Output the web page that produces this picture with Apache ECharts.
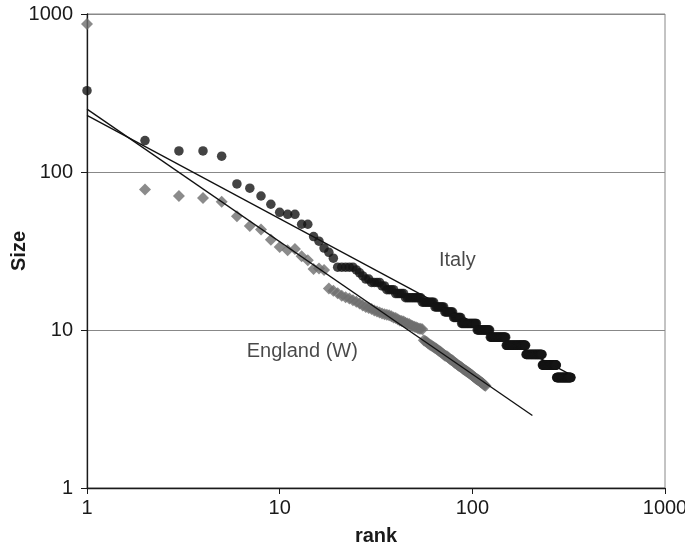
<!DOCTYPE html>
<html>
<head>
<meta charset="utf-8">
<script src="https://cdn.jsdelivr.net/npm/echarts@6/dist/echarts.min.js"></script>
<style>html,body{margin:0;padding:0;background:#fff}#c{width:685px;height:548px}</style>
</head>
<body>
<div id="c"></div>
<script>
// Italy: explicit sizes for ranks 1..19, then integer plateaus
var italyHead = [327, 158, 136, 136, 126, 84, 79, 70.5, 62.5, 55.6, 54, 54, 46.7, 46.7, 39, 36.5, 33, 31, 28.5];
var italyPlateauSize = [25, 24, 23, 22, 21, 20, 19, 18, 17, 16, 15, 14, 13, 12, 11, 10, 9, 8, 7, 6, 5];
var italyPlateauLastRank = [24, 25, 26, 27, 29, 33, 35, 39, 44, 54, 63, 71, 79, 87, 105, 123, 149, 189, 230, 273, 325];

// England (W): sizes for ranks 1..117
var englandSizes = [865, 77.5, 70.5, 68.5, 64.8, 52.5, 45.6, 43.2, 37.3, 33.5,
  32.0, 32.6, 29.3, 27.6, 24.3, 24.5, 24.0, 18.3, 17.7, 17.1,
  16.5, 16.1, 15.8, 15.4, 15.1, 14.7, 14.3, 14.0, 13.8, 13.6,
  13.3, 13.1, 12.9, 12.7, 12.6, 12.5, 12.4, 12.2, 12.0, 11.9,
  11.7, 11.5, 11.4, 11.3, 11.1, 11.0, 10.9, 10.7, 10.6, 10.5,
  10.4, 10.3, 10.2, 10.2, 10.1, 8.6, 8.5, 8.4, 8.2, 8.1,
  8.0, 7.9, 7.8, 7.7, 7.6, 7.5, 7.4, 7.3, 7.2, 7.1,
  7.0, 6.9, 6.85, 6.8, 6.7, 6.6, 6.5, 6.45, 6.4, 6.3,
  6.2, 6.15, 6.1, 6.0, 5.95, 5.9, 5.85, 5.8, 5.7, 5.65,
  5.6, 5.55, 5.5, 5.45, 5.4, 5.35, 5.3, 5.25, 5.2, 5.15,
  5.1, 5.05, 5.0, 4.95, 4.9, 4.87, 4.83, 4.8, 4.75, 4.7,
  4.67, 4.63, 4.6, 4.55, 4.5, 4.47, 4.43];

// Fitted power-law lines (endpoints)
var italyFit = [[1, 228], [325, 5.2]];
var englandFit = [[1, 250], [205, 2.88]];

var xTicks = [1, 10, 100, 1000];
var yTicks = [1, 10, 100, 1000];

var italyData = [];
for (var i = 0; i < italyHead.length; i++) italyData.push([i + 1, italyHead[i]]);
var r = italyHead.length + 1;
for (var p = 0; p < italyPlateauSize.length; p++) {
  for (; r <= italyPlateauLastRank[p]; r++) italyData.push([r, italyPlateauSize[p]]);
}
var englandData = englandSizes.map(function (v, k) { return [k + 1, v]; });

var FONT = 'Liberation Sans, Arial, Helvetica, sans-serif';
var chart = echarts.init(document.getElementById('c'));
chart.setOption({
  animation: false,
  backgroundColor: '#fff',
  grid: { left: 87, right: 20, top: 14, bottom: 60, show: true, borderColor: '#888', borderWidth: 1,
    containLabel: false, outerBoundsMode: 'none' },
  xAxis: {
    type: 'log', logBase: 10, min: 1, max: 1000,
    name: 'rank', nameLocation: 'middle', nameGap: 38, nameMoveOverlap: false,
    nameTextStyle: { fontFamily: FONT, fontSize: 20, fontWeight: 'bold', color: '#1a1a1a' },
    axisLine: { show: true, lineStyle: { color: '#1a1a1a', width: 1.3 } },
    axisTick: { show: true, inside: false, length: 6, lineStyle: { color: '#1a1a1a' } },
    axisLabel: { fontFamily: FONT, fontSize: 20, color: '#1a1a1a', margin: 10,
      formatter: function (v) { return xTicks.indexOf(Math.round(v)) >= 0 ? String(Math.round(v)) : ''; } },
    splitLine: { show: false },
    minorTick: { show: false }
  },
  yAxis: {
    type: 'log', logBase: 10, min: 1, max: 1000,
    name: 'Size', nameLocation: 'middle', nameGap: 58, nameRotate: 90, nameMoveOverlap: false,
    nameTextStyle: { fontFamily: FONT, fontSize: 20, fontWeight: 'bold', color: '#1a1a1a' },
    axisLine: { show: true, lineStyle: { color: '#1a1a1a', width: 1.3 } },
    axisTick: { show: true, inside: false, length: 6, lineStyle: { color: '#1a1a1a' } },
    axisLabel: { fontFamily: FONT, fontSize: 20, color: '#1a1a1a', margin: 14,
      formatter: function (v) { return yTicks.indexOf(Math.round(v)) >= 0 ? String(Math.round(v)) : ''; } },
    splitLine: { show: true, lineStyle: { color: '#888', width: 1 } }
  },
  series: [
    { name: 'England (W)', type: 'scatter', data: englandData, symbol: 'diamond', symbolSize: 12,
      itemStyle: { color: '#6e6e6e' }, z: 2 },
    { name: 'England fit', type: 'line', data: englandFit, showSymbol: false, symbol: 'none',
      lineStyle: { color: '#111', width: 1.3 }, z: 3 },
    { name: 'Italy fit', type: 'line', data: italyFit, showSymbol: false, symbol: 'none',
      lineStyle: { color: '#111', width: 1.3 }, z: 3 },
    { name: 'Italy', type: 'scatter', data: italyData, symbol: 'circle', symbolSize: 9.5,
      itemStyle: { color: '#141414' }, z: 4 },
    { name: 'labels', type: 'scatter', symbolSize: 0, silent: true, z: 5,
      data: [
        { value: [83.6, 27.7], label: { formatter: 'Italy' } },
        { value: [13.1, 7.3], label: { formatter: 'England (W)' } }
      ],
      label: { show: true, position: 'inside', fontFamily: FONT, fontSize: 20, color: '#1a1a1a' } }
  ]
});
</script>
</body>
</html>
